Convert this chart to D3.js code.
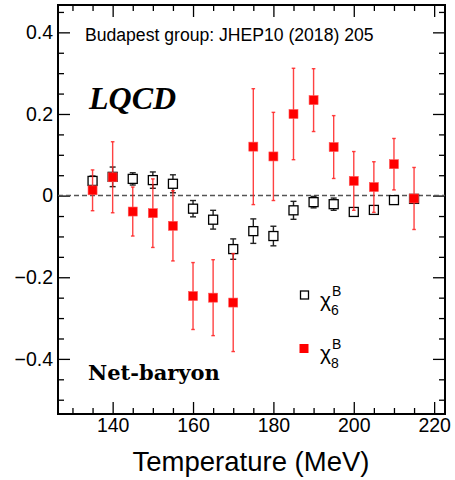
<!DOCTYPE html>
<html>
<head>
<meta charset="utf-8">
<script src="https://cdnjs.cloudflare.com/ajax/libs/d3/7.8.5/d3.min.js"></script>
<style>
  body { margin: 0; background: #fff; }
  svg { display: block; }
</style>
</head>
<body>
<div id="chart"></div>
<script>
// temperatures (MeV)
var temps = [135, 140, 145, 150, 155, 160, 165, 170, 175, 180, 185, 190, 195, 200, 205, 210, 215];

// chi6^B (open squares)
var chi6 = [0.036, 0.046, 0.041, 0.038, 0.029, -0.032, -0.059, -0.131, -0.087, -0.099, -0.036, -0.016, -0.021, -0.040, -0.035, -0.011, -0.008];
var chi6Err = [0.012, 0.024, 0.015, 0.020, 0.022, 0.020, 0.023, 0.025, 0.030, 0.024, 0.022, 0.014, 0.015, 0.010, 0.010, 0.008, 0.010];

// chi8^B (filled red squares)
var chi8 = [0.013, 0.045, -0.039, -0.043, -0.074, -0.246, -0.250, -0.262, 0.120, 0.096, 0.200, 0.234, 0.119, 0.036, 0.021, 0.077, -0.007];
var chi8Err = [0.050, 0.087, 0.060, 0.084, 0.086, 0.082, 0.093, 0.120, 0.142, 0.108, 0.112, 0.077, 0.077, 0.072, 0.062, 0.063, 0.076];

var xMajor = [140, 160, 180, 200, 220];
var yMajor = [-0.4, -0.2, 0, 0.2, 0.4];

var width = 455, height = 480;
var pLeft = 58, pRight = 445, pTop = 5, pBottom = 414;

var x = d3.scaleLinear().domain([126.4, 222.7]).range([pLeft, pRight]);
var y = d3.scaleLinear().domain([-0.535, 0.467]).range([pBottom, pTop]);

var xMinor = d3.range(130, 223, 5).filter(function (d) { return xMajor.indexOf(d) < 0; });
var yMinor = d3.range(-0.5, 0.47, 0.05).map(function (d) { return Math.round(d * 100) / 100; })
  .filter(function (d) { return yMajor.indexOf(d) < 0; });

var svg = d3.select('#chart').append('svg')
  .attr('width', width)
  .attr('height', height);

var fmt = function (d) { return d === 0 ? '0' : d3.format('.1f')(d).replace('-', '\u2212'); };

function styleAxis(g) {
  g.select('.domain').remove();
  g.selectAll('line').attr('stroke', '#000').attr('stroke-width', 1.3);
  g.selectAll('text').attr('fill', '#000')
    .style('font-family', '"Liberation Sans", Arial, sans-serif')
    .style('font-size', '19.5px');
}

// bottom
svg.append('g').attr('transform', 'translate(0,' + pBottom + ')')
  .call(d3.axisBottom(x).tickValues(xMajor).tickSizeInner(-12).tickSizeOuter(0).tickPadding(4).tickFormat(d3.format('d')))
  .call(styleAxis);
svg.append('g').attr('transform', 'translate(0,' + pBottom + ')')
  .call(d3.axisBottom(x).tickValues(xMinor).tickSizeInner(-6).tickSizeOuter(0).tickFormat(''))
  .call(styleAxis);
// top
svg.append('g').attr('transform', 'translate(0,' + pTop + ')')
  .call(d3.axisTop(x).tickValues(xMajor).tickSizeInner(-12).tickSizeOuter(0).tickFormat(''))
  .call(styleAxis);
svg.append('g').attr('transform', 'translate(0,' + pTop + ')')
  .call(d3.axisTop(x).tickValues(xMinor).tickSizeInner(-6).tickSizeOuter(0).tickFormat(''))
  .call(styleAxis);
// left
svg.append('g').attr('transform', 'translate(' + pLeft + ',0)')
  .call(d3.axisLeft(y).tickValues(yMajor).tickSizeInner(-12).tickSizeOuter(0).tickPadding(5).tickFormat(fmt))
  .call(styleAxis);
svg.append('g').attr('transform', 'translate(' + pLeft + ',0)')
  .call(d3.axisLeft(y).tickValues(yMinor).tickSizeInner(-6).tickSizeOuter(0).tickFormat(''))
  .call(styleAxis);
// right
svg.append('g').attr('transform', 'translate(' + pRight + ',0)')
  .call(d3.axisRight(y).tickValues(yMajor).tickSizeInner(-12).tickSizeOuter(0).tickFormat(''))
  .call(styleAxis);
svg.append('g').attr('transform', 'translate(' + pRight + ',0)')
  .call(d3.axisRight(y).tickValues(yMinor).tickSizeInner(-6).tickSizeOuter(0).tickFormat(''))
  .call(styleAxis);

// frame
svg.append('rect')
  .attr('x', pLeft).attr('y', pTop)
  .attr('width', pRight - pLeft).attr('height', pBottom - pTop)
  .attr('fill', 'none').attr('stroke', '#000').attr('stroke-width', 2);

// zero line
svg.append('line')
  .attr('x1', pLeft).attr('x2', pRight)
  .attr('y1', y(0)).attr('y2', y(0))
  .attr('stroke', '#555').attr('stroke-width', 1.5)
  .attr('stroke-dasharray', '5,3');

// chi6 error bars + open squares
var g6 = svg.append('g');
temps.forEach(function (t, i) {
  var cx = x(t);
  var y1 = y(chi6[i] + chi6Err[i]), y2 = y(chi6[i] - chi6Err[i]);
  g6.append('line').attr('x1', cx).attr('x2', cx).attr('y1', y1).attr('y2', y2)
    .attr('stroke', '#222').attr('stroke-width', 1.4);
  [y1, y2].forEach(function (yy) {
    g6.append('line').attr('x1', cx - 3).attr('x2', cx + 3).attr('y1', yy).attr('y2', yy)
      .attr('stroke', '#222').attr('stroke-width', 1.4);
  });
  g6.append('rect').attr('x', cx - 4.5).attr('y', y(chi6[i]) - 4.5)
    .attr('width', 9).attr('height', 9)
    .attr('fill', '#fff').attr('stroke', '#000').attr('stroke-width', 1.3);
});

// chi8 error bars + filled squares
var g8 = svg.append('g');
temps.forEach(function (t, i) {
  var cx = x(t);
  var y1 = y(chi8[i] + chi8Err[i]), y2 = y(chi8[i] - chi8Err[i]);
  g8.append('line').attr('x1', cx).attr('x2', cx).attr('y1', y1).attr('y2', y2)
    .attr('stroke', '#f22').attr('stroke-width', 1.4).attr('opacity', 0.85);
  [y1, y2].forEach(function (yy) {
    g8.append('line').attr('x1', cx - 1.8).attr('x2', cx + 1.8).attr('y1', yy).attr('y2', yy)
      .attr('stroke', '#f22').attr('stroke-width', 1.4).attr('opacity', 0.85);
  });
  g8.append('rect').attr('x', cx - 4.5).attr('y', y(chi8[i]) - 4.5)
    .attr('width', 9).attr('height', 9)
    .attr('fill', '#f00').attr('stroke', '#f55').attr('stroke-width', 0.6);
});

// labels
svg.append('text').attr('x', 85).attr('y', 41)
  .style('font-family', '"Liberation Sans", Arial, sans-serif').style('font-size', '17.6px')
  .text('Budapest group: JHEP10 (2018) 205');

svg.append('text').attr('x', 89).attr('y', 109)
  .style('font-family', '"Liberation Serif", "Times New Roman", serif')
  .style('font-size', '32px').style('font-weight', 'bold').style('font-style', 'italic')
  .text('LQCD');

svg.append('text').attr('x', 88).attr('y', 380)
  .style('font-family', '"DejaVu Serif", serif')
  .style('font-size', '21px').style('font-weight', 'bold')
  .text('Net-baryon');

svg.append('text').attr('x', 251).attr('y', 471)
  .attr('text-anchor', 'middle')
  .style('font-family', '"Liberation Sans", Arial, sans-serif').style('font-size', '27.5px')
  .text('Temperature (MeV)');

// legend
var leg = svg.append('g').style('font-family', '"Liberation Sans", Arial, sans-serif');
leg.append('rect').attr('x', 300.5).attr('y', 291).attr('width', 8).attr('height', 8)
  .attr('fill', '#fff').attr('stroke', '#000').attr('stroke-width', 1.3);
leg.append('rect').attr('x', 299.5).attr('y', 344).attr('width', 9).attr('height', 9)
  .attr('fill', '#f00');

function legText(yb, sub) {
  var t = leg.append('text').attr('x', 320).attr('y', yb).style('font-size', '21px');
  t.append('tspan').text('\u03c7');
  t.append('tspan').attr('x', 332).attr('y', yb - 11).style('font-size', '14px').text('B');
  t.append('tspan').attr('x', 331).attr('y', yb + 8).style('font-size', '14px').text(sub);
}
legText(307, '6');
legText(360, '8');
</script>
</body>
</html>
